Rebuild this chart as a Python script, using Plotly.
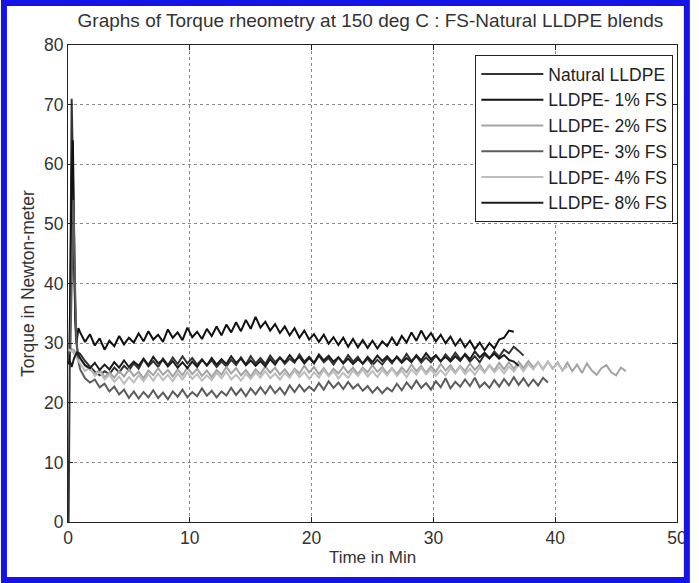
import plotly.graph_objects as go

# torque readings (Newton-meter), sampled every 0.4 min from t = 1.0 min
# the first minute (mixing spike) is given separately with its own times
names = ['Natural LLDPE', 'LLDPE- 1% FS', 'LLDPE- 2% FS', 'LLDPE- 3% FS', 'LLDPE- 4% FS', 'LLDPE- 8% FS']
colors = ['#333333', '#111111', '#a3a3a3', '#5c5c5c', '#bdbdbd', '#1c1c1c']

start_t_nat = [0.05, 0.15, 0.3, 0.4, 0.5, 0.65, 0.8]
start_v_nat = [0, 30, 71, 60, 42, 31, 28.5]
natural = [28.2, 27.0, 26.1, 25.2, 24.6, 25.3, 24.8, 25.9, 25.1, 26.2, 25.4, 26.6, 25.7, 27.3, 26.1, 27.0,
           26.0, 27.4, 26.3, 27.6, 26.5, 27.8, 26.6, 27.5, 26.4, 27.3, 26.2, 27.1, 26.0, 26.9, 26.1, 27.2,
           26.3, 27.6, 26.4, 27.8, 26.6, 27.5, 26.5, 27.9, 26.8, 27.6, 26.5, 27.4, 26.7, 28.1, 26.9, 27.7,
           26.6, 27.9, 26.8, 27.5, 26.4, 27.6, 26.7, 28.0, 26.9, 27.7, 26.5, 27.4, 26.3, 27.2, 26.4, 27.5,
           26.6, 27.8, 26.9, 28.2, 27.0, 27.8, 26.7, 27.6, 26.8, 27.9, 26.9, 28.1, 27.2, 28.4, 27.3, 28.0,
           26.9, 27.8, 26.8, 28.1, 27.4, 28.6, 27.7, 28.9, 28.3, 29.4, 28.7, 27.9]

start_t_1 = [0, 0.1, 0.2, 0.3, 0.4, 0.5, 0.6, 0.7, 0.85]
start_v_1 = [27, 26.5, 40, 58, 64, 47, 34, 30, 32.5]
fs1 = [31.8, 30.2, 31.5, 29.6, 30.8, 28.9, 30.4, 29.5, 31.2, 29.8, 30.9, 30.1, 31.6, 30.3, 32.0, 30.6,
       31.4, 30.2, 32.3, 30.9, 31.8, 30.5, 32.6, 31.0, 31.9, 30.7, 32.4, 31.2, 32.8, 31.3, 33.1, 31.8,
       33.5, 32.0, 33.9, 32.4, 34.4, 32.6, 33.6, 32.1, 33.2, 31.7, 32.8, 31.3, 32.5, 30.9, 32.1, 30.6,
       31.5, 30.2, 31.4, 29.9, 31.0, 29.7, 30.9, 29.4, 30.7, 29.3, 30.5, 29.2, 30.4, 29.1, 30.3, 29.5,
       30.9, 29.6, 31.2, 30.1, 31.8, 30.4, 32.1, 30.6, 31.7, 30.3, 31.4, 30.0, 31.1, 29.6, 30.7, 29.3,
       30.4, 29.0, 30.1, 28.8, 30.0, 29.1, 30.6, 30.9, 32.1, 31.9]

start_t_2 = [0, 0.3, 0.5, 0.8]
start_v_2 = [28.5, 29, 28.8, 27.5]
fs2 = [27.4, 26.2, 25.6, 24.8, 25.5, 24.3, 25.1, 24.2, 25.3, 24.4, 25.6, 24.5, 25.2, 24.1, 25.4, 24.6,
       25.8, 24.7, 25.5, 24.4, 25.6, 24.6, 25.9, 24.8, 25.7, 24.5, 25.4, 24.3, 25.5, 24.7, 26.0, 24.9,
       25.8, 24.6, 25.5, 24.4, 25.6, 24.8, 26.1, 25.0, 25.9, 24.7, 25.6, 24.5, 25.7, 24.9, 26.2, 25.1,
       26.0, 24.8, 25.8, 24.6, 25.7, 24.9, 26.1, 25.0, 25.9, 24.8, 25.9, 25.1, 26.3, 25.2, 26.0, 24.9,
       25.8, 24.8, 25.9, 25.1, 26.4, 25.3, 26.2, 25.0, 26.1, 25.2, 26.5, 25.4, 26.3, 25.1, 26.2, 25.3,
       26.6, 25.5, 26.4, 25.2, 26.3, 25.4, 26.7, 25.6, 26.8, 25.7, 26.9, 25.8, 27.0, 25.9, 26.8, 25.6,
       26.9, 25.7, 26.8, 25.4, 26.7, 25.3, 26.4, 25.0, 26.6, 25.4, 24.7, 25.8, 26.3, 25.1, 24.6, 25.9,
       25.3]

start_t_3 = [0, 0.2, 0.35, 0.45, 0.55, 0.7, 0.85]
start_v_3 = [28, 29, 45, 54, 42, 30, 27]
fs3 = [25.6, 24.1, 23.4, 23.9, 22.6, 23.2, 21.9, 22.7, 21.4, 22.2, 20.8, 21.9, 20.7, 21.8, 20.9, 22.1,
       20.8, 21.7, 20.6, 21.9, 21.0, 22.2, 20.9, 21.8, 21.1, 22.4, 21.2, 22.0, 20.9, 21.9, 21.2, 22.5,
       21.3, 22.3, 21.1, 22.4, 21.4, 22.6, 21.5, 22.8, 21.6, 22.5, 21.4, 22.9, 21.8, 23.0, 21.9, 22.7,
       22.0, 23.3, 22.2, 23.6, 22.5, 23.4, 22.3, 23.5, 22.4, 23.1, 22.0, 22.8, 21.7, 22.6, 21.6, 22.5,
       21.9, 23.2, 22.1, 23.4, 22.4, 23.7, 22.5, 23.3, 22.2, 23.6, 22.6, 24.1, 22.4, 23.5, 22.7, 23.9,
       22.8, 24.2, 22.6, 23.4, 22.5, 23.8, 22.7, 24.0, 22.9, 24.3, 23.0, 24.1, 22.8, 23.9, 22.9, 24.2,
       23.4]

start_t_4 = [0, 0.4, 0.7]
start_v_4 = [29, 28.5, 27.5]
fs4 = [26.6, 25.3, 25.9, 24.5, 25.2, 23.9, 24.7, 23.5, 24.4, 23.2, 24.3, 23.4, 24.6, 23.6, 24.8, 23.7,
       24.9, 23.8, 24.7, 23.6, 24.9, 23.9, 25.1, 24.0, 24.8, 23.7, 24.6, 23.8, 25.0, 24.1, 25.2, 23.9,
       24.7, 23.7, 24.9, 24.0, 25.1, 24.2, 25.3, 24.1, 24.9, 23.9, 25.0, 24.2, 25.4, 24.3, 25.2, 24.0,
       25.1, 24.2, 25.5, 24.4, 25.3, 24.1, 25.0, 24.2, 25.4, 24.5, 25.6, 24.4, 25.3, 24.3, 25.5, 24.6,
       25.7, 24.5, 25.4, 24.3, 25.6, 24.7, 25.9, 24.8, 25.6, 24.5, 25.5, 24.6, 25.8, 24.9, 26.0, 24.8,
       25.7, 24.7, 25.9, 25.0, 26.2, 25.1, 26.0, 24.9, 26.1, 25.2, 26.4, 25.3, 26.5, 25.6, 26.8, 25.7,
       26.9, 25.8, 26.6, 25.5, 26.1]

start_t_8 = [0, 0.15, 0.3, 0.5, 0.75]
start_v_8 = [26.5, 27, 26, 27.5, 28.5]
fs8 = [27.5, 26.3, 25.8, 26.7, 25.5, 26.4, 25.6, 26.8, 25.9, 27.1, 26.0, 26.9, 26.2, 27.4, 26.3, 27.7,
       26.6, 27.2, 26.1, 27.0, 25.9, 26.8, 25.8, 26.9, 26.0, 27.2, 26.3, 27.5, 26.4, 27.3, 26.5, 27.8,
       26.7, 27.4, 26.3, 27.1, 26.2, 27.0, 26.1, 27.3, 26.4, 27.6, 26.8, 28.0, 27.0, 27.7, 26.6, 27.5,
       26.7, 28.1, 27.1, 27.9, 26.9, 27.6, 26.6, 27.4, 26.5, 27.3, 26.6, 27.7, 26.8, 27.9, 27.0, 27.8,
       26.9, 27.6, 26.7, 27.5, 26.8, 28.0, 27.1, 28.3, 27.3, 28.0, 27.0, 27.7, 26.9, 27.8, 27.0, 28.2,
       27.3, 28.6, 27.6, 28.4, 27.5, 28.2, 27.4, 28.0, 27.2, 26.9, 26.2]

series = [(start_t_nat, start_v_nat, natural), (start_t_1, start_v_1, fs1), (start_t_2, start_v_2, fs2),
          (start_t_3, start_v_3, fs3), (start_t_4, start_v_4, fs4), (start_t_8, start_v_8, fs8)]

fig = go.Figure()
for name, col, (st, sv, body) in zip(names, colors, series):
    t = st + [round(1.0 + 0.4 * i, 2) for i in range(len(body))]
    fig.add_trace(go.Scatter(x=t, y=sv + body, mode='lines', name=name,
                             line=dict(color=col, width=2)))

FONT = 'Liberation Sans, Arial'
axis_style = dict(showline=True, linecolor='#222', linewidth=1, mirror='allticks',
                  ticks='inside', ticklen=5, tickcolor='#222', showgrid=True,
                  gridcolor='#8a8a8a', griddash='dot', gridwidth=1, zeroline=False,
                  tickfont=dict(family=FONT, size=17.5, color='#333'))

fig.update_xaxes(range=[0, 50], dtick=10,
                 title=dict(text='Time in Min', font=dict(family=FONT, size=17, color='#333'), standoff=4),
                 **axis_style)
fig.update_yaxes(range=[0, 80], dtick=10,
                 title=dict(text='Torque in Newton-meter', font=dict(family=FONT, size=17.5, color='#333'), standoff=4),
                 **axis_style)

W, H = 699, 583
ml, mr, mt, mb = 68, 13, 45, 61
pw, ph = W - ml - mr, H - mt - mb

fig.update_layout(
    width=W, height=H,
    margin=dict(l=ml, r=mr, t=mt, b=mb),
    plot_bgcolor='white', paper_bgcolor='white',
    font=dict(family=FONT, color='#222'),
    title=dict(text='Graphs of Torque rheometry at 150 deg C : FS-Natural LLDPE blends',
               font=dict(family=FONT, size=19, color='#333'), x=0.53, xanchor='center', y=0.965, yanchor='middle'),
    legend=dict(x=0.994, y=0.979, xanchor='right', yanchor='top', bgcolor='white',
                bordercolor='#222', borderwidth=1, font=dict(family=FONT, size=17.5, color='#222'),
                itemwidth=62, tracegroupgap=0),
    showlegend=True,
)

# blue frame round the whole picture
fig.add_shape(type='rect', xref='paper', yref='paper',
              x0=(-ml + 3) / pw, x1=(pw + mr - 3) / pw,
              y0=(-mb + 3) / ph, y1=(ph + mt - 3) / ph,
              line=dict(color='#1414e6', width=6), layer='above')

fig.write_html("out.html", config={'displayModeBar': False},
               post_script="document.body.style.margin='0px';document.body.style.overflow='hidden';"
                           "document.documentElement.style.overflow='hidden';")
